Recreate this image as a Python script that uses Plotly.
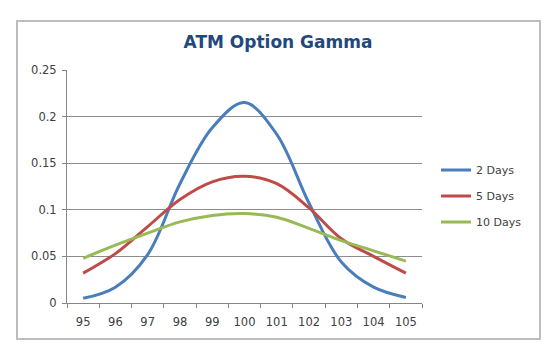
import plotly.graph_objects as go

strikes = ["95", "96", "97", "98", "99", "100", "101", "102", "103", "104", "105"]
gamma_2d = [0.005, 0.017, 0.052, 0.128, 0.188, 0.215, 0.181, 0.107, 0.044, 0.017, 0.006]
gamma_5d = [0.032, 0.053, 0.082, 0.111, 0.130, 0.136, 0.128, 0.102, 0.069, 0.050, 0.032]
gamma_10d = [0.048, 0.062, 0.075, 0.087, 0.094, 0.096, 0.092, 0.080, 0.067, 0.056, 0.045]
series_names = ["2 Days", "5 Days", "10 Days"]
colors = ["#4A7EBB", "#BE4B48", "#98B954"]

W, H = 558, 359
L, R, T, B = 67, 136, 70, 56
pw, ph = W - L - R, H - T - B

def px_x(p):
    return (p - L) / pw

def px_y(p):
    return (H - B - p) / ph

fig = go.Figure()
for i, (name, vals) in enumerate(zip(series_names, [gamma_2d, gamma_5d, gamma_10d])):
    fig.add_trace(go.Scatter(
        x=strikes, y=vals, name=name, mode="lines",
        line=dict(color=colors[i], width=3, shape="spline", smoothing=1.0),
        legendgroup=name,
    ))

font = "DejaVu Sans, Verdana, sans-serif"
fig.update_layout(
    width=W, height=H,
    margin=dict(l=L, r=R, t=T, b=B),
    paper_bgcolor="white", plot_bgcolor="white",
    title=dict(text="<b>ATM Option Gamma</b>", x=278 / W, xanchor="center",
               y=1 - 42 / H, yanchor="middle", xref="container", yref="container",
               font=dict(family=font, size=17, color="#1F497D")),
    font=dict(family=font, size=11.5, color="#404040"),
    showlegend=True,
    legend=dict(x=px_x(436), xanchor="left", y=px_y(196), yanchor="middle",
                font=dict(family=font, size=11, color="#404040"),
                tracegroupgap=7, bgcolor="rgba(0,0,0,0)"),
    xaxis=dict(type="category", range=[-0.5, 10.5], showgrid=False,
               showline=True, linecolor="#868686", linewidth=1,
               ticks="outside", tickson="boundaries", ticklen=4, tickcolor="#868686",
               ticklabelstandoff=8,
               tickfont=dict(family=font, size=11.5, color="#404040"), fixedrange=True),
    yaxis=dict(range=[0, 0.25], dtick=0.05, showgrid=True, gridcolor="#8C8C8C", gridwidth=1,
               showline=True, linecolor="#868686", linewidth=1, zeroline=False,
               ticks="outside", ticklen=4, tickcolor="#868686",
               ticklabelstandoff=3,
               tickfont=dict(family=font, size=11.5, color="#404040"), fixedrange=True),
    shapes=[dict(type="rect", xref="paper", yref="paper",
                 x0=px_x(17), x1=px_x(540), y0=px_y(339), y1=px_y(21),
                 line=dict(color="#BDBDBD", width=2), fillcolor="rgba(0,0,0,0)", layer="below")],
)

fig.write_html("out.html", config={"displayModeBar": False},
               post_script="document.body.style.margin='0px';")
